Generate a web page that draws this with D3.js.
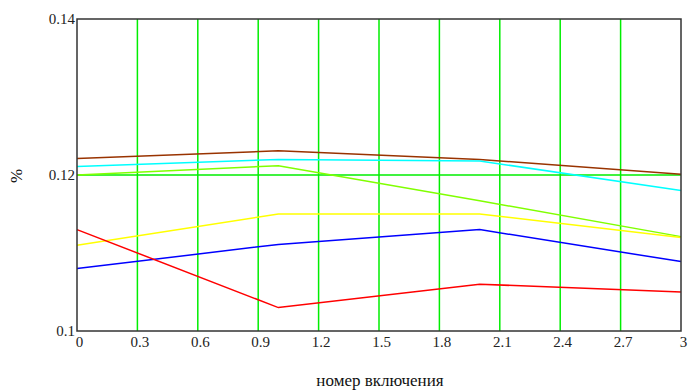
<!DOCTYPE html>
<html><head><meta charset="utf-8">
<script src="https://cdn.jsdelivr.net/npm/d3@7"></script>
<style>body{margin:0;background:#fff}svg{display:block}</style>
</head><body><svg id="c" width="688" height="390" style="font-family:'Liberation Serif'"></svg>
<script>
const xVals = [0, 1, 2, 3];
const brown = [0.1221, 0.1231, 0.1220, 0.1201];
const cyan = [0.1211, 0.1220, 0.1218, 0.1180];
const lime = [0.1200, 0.1212, 0.1167, 0.1121];
const yellow = [0.1110, 0.1150, 0.1150, 0.1120];
const blue = [0.1080, 0.1111, 0.1130, 0.1089];
const red = [0.1130, 0.1030, 0.1060, 0.1050];
const xTicks = [0, 0.3, 0.6, 0.9, 1.2, 1.5, 1.8, 2.1, 2.4, 2.7, 3];
const xTickLabels = ["0","0.3","0.6","0.9","1.2","1.5","1.8","2.1","2.4","2.7","3"];
const yTicks = [0.1, 0.12, 0.14];
const yTickLabels = ["0.1","0.12","0.14"];
const series = [
  {v: brown, c: "#993300"},
  {v: cyan, c: "#00ffff"},
  {v: lime, c: "#80ff00"},
  {v: yellow, c: "#ffff00"},
  {v: blue, c: "#0000ff"},
  {v: red, c: "#ff0000"}
];

const svg = d3.select("#c");
const L = 77, R = 681, T = 19, B = 331;
const x = d3.scaleLinear().domain([0, 3]).range([L, R]);
const y = d3.scaleLinear().domain([0.1, 0.14]).range([B, T]);

svg.append("g").selectAll("line").data(xTicks.slice(1, -1)).join("line")
  .attr("x1", d => x(d)).attr("x2", d => x(d)).attr("y1", T).attr("y2", B)
  .attr("stroke", "#00ee00").attr("stroke-width", 1.5);
svg.append("g").selectAll("line").data(yTicks.slice(1, -1)).join("line")
  .attr("x1", L).attr("x2", R).attr("y1", d => y(d)).attr("y2", d => y(d))
  .attr("stroke", "#00ee00").attr("stroke-width", 1.5);

const line = d3.line().x((d, i) => x(xVals[i])).y(d => y(d));
series.forEach(s => {
  svg.append("path").datum(s.v).attr("d", line)
    .attr("fill", "none").attr("stroke", s.c).attr("stroke-width", 1.5);
});

svg.append("rect").attr("x", L).attr("y", T).attr("width", R - L).attr("height", B - T)
  .attr("fill", "none").attr("stroke", "#333").attr("stroke-width", 1.5);

const xAxis = d3.axisBottom(x).tickValues(xTicks).tickFormat((d, i) => xTickLabels[i]).tickSize(0).tickPadding(5);
const gx = svg.append("g").attr("transform", `translate(2,${B})`).call(xAxis);
gx.attr("font-family", "Liberation Serif").attr("font-size", 15);
gx.select(".domain").remove();
gx.selectAll("text").attr("fill", "#222");

const yAxis = d3.axisLeft(y).tickValues(yTicks).tickFormat((d, i) => yTickLabels[i]).tickSize(0).tickPadding(2);
const gy = svg.append("g").attr("transform", `translate(${L},0)`).call(yAxis);
gy.attr("font-family", "Liberation Serif").attr("font-size", 15);
gy.select(".domain").remove();
gy.selectAll("text").attr("fill", "#222");

svg.append("text").attr("x", 380).attr("y", 386).attr("text-anchor", "middle")
  .attr("font-size", 17).attr("fill", "#111").text("номер включения");
svg.append("text").attr("transform", "translate(22,176) rotate(-90)").attr("text-anchor", "middle")
  .attr("font-size", 17).attr("fill", "#111").text("%");
</script></body></html>
